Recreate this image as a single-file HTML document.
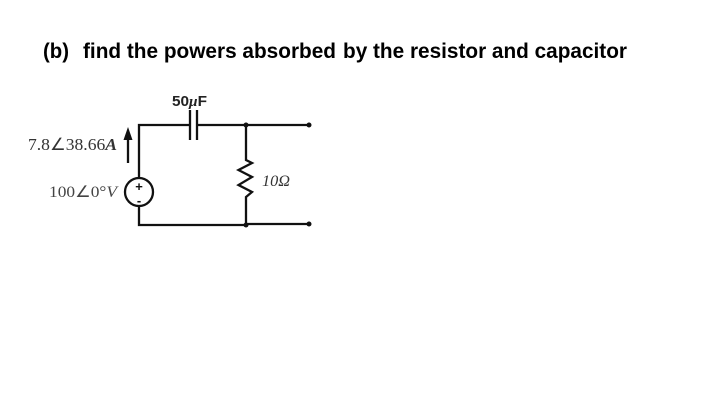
<!DOCTYPE html>
<html>
<head>
<meta charset="utf-8">
<style>
html,body{margin:0;padding:0;background:#fff;width:720px;height:405px;overflow:hidden}
svg{display:block}
</style>
</head>
<body>
<svg width="720" height="405" viewBox="0 0 720 405" xmlns="http://www.w3.org/2000/svg">
<rect width="720" height="405" fill="#fff"/>
<g font-family="'Liberation Sans',sans-serif" font-weight="bold" font-size="21" fill="#000">
<text x="43" y="58" textLength="26" lengthAdjust="spacingAndGlyphs">(b)</text>
<text x="83" y="58" textLength="253" lengthAdjust="spacingAndGlyphs">find the powers absorbed</text>
<text x="343" y="58" textLength="284" lengthAdjust="spacingAndGlyphs">by the resistor and capacitor</text>
</g>
<g fill="none" stroke="#111" stroke-width="2.300">
<path d="M139 178V125H190"/>
<path d="M139 206V225H246"/>
<path d="M197 125H309"/>
<path d="M246 125V160L252 163L238.500 170L252 177L238.500 185L252 192L246 197V224H309"/>
<path d="M190 110V140M197 110V140"/>
<circle cx="139" cy="192" r="14"/>
<path d="M128 163V137"/>
</g>
<path d="M128 127L132.500 140H123.500Z" fill="#111"/>
<circle cx="246" cy="125" r="2.500" fill="#111"/>
<circle cx="309" cy="125" r="2.500" fill="#111"/>
<circle cx="246" cy="225" r="2.500" fill="#111"/>
<circle cx="309" cy="224" r="2.500" fill="#111"/>
<text x="139" y="191" text-anchor="middle" font-family="'Liberation Sans',sans-serif" font-weight="bold" font-size="13" fill="#111">+</text>
<text x="139" y="205" text-anchor="middle" font-family="'Liberation Sans',sans-serif" font-weight="bold" font-size="13" fill="#111">-</text>
<text x="172" y="106" font-family="'Liberation Sans',sans-serif" font-weight="bold" font-size="15" fill="#222" textLength="35" lengthAdjust="spacingAndGlyphs">50<tspan font-family="'Liberation Serif',serif" font-style="italic">μ</tspan>F</text>
<text x="28" y="150" font-family="'Liberation Serif',serif" font-size="17" fill="#333" textLength="89" lengthAdjust="spacingAndGlyphs">7.8∠38.66<tspan font-style="italic" font-weight="bold">A</tspan></text>
<text x="49" y="197" font-family="'Liberation Serif',serif" font-size="16" fill="#444" textLength="68" lengthAdjust="spacingAndGlyphs">100∠0°<tspan font-style="italic">V</tspan></text>
<text x="262" y="186" font-family="'Liberation Serif',serif" font-style="italic" font-size="16" fill="#333" textLength="28" lengthAdjust="spacingAndGlyphs">10Ω</text>
</svg>
</body>
</html>
